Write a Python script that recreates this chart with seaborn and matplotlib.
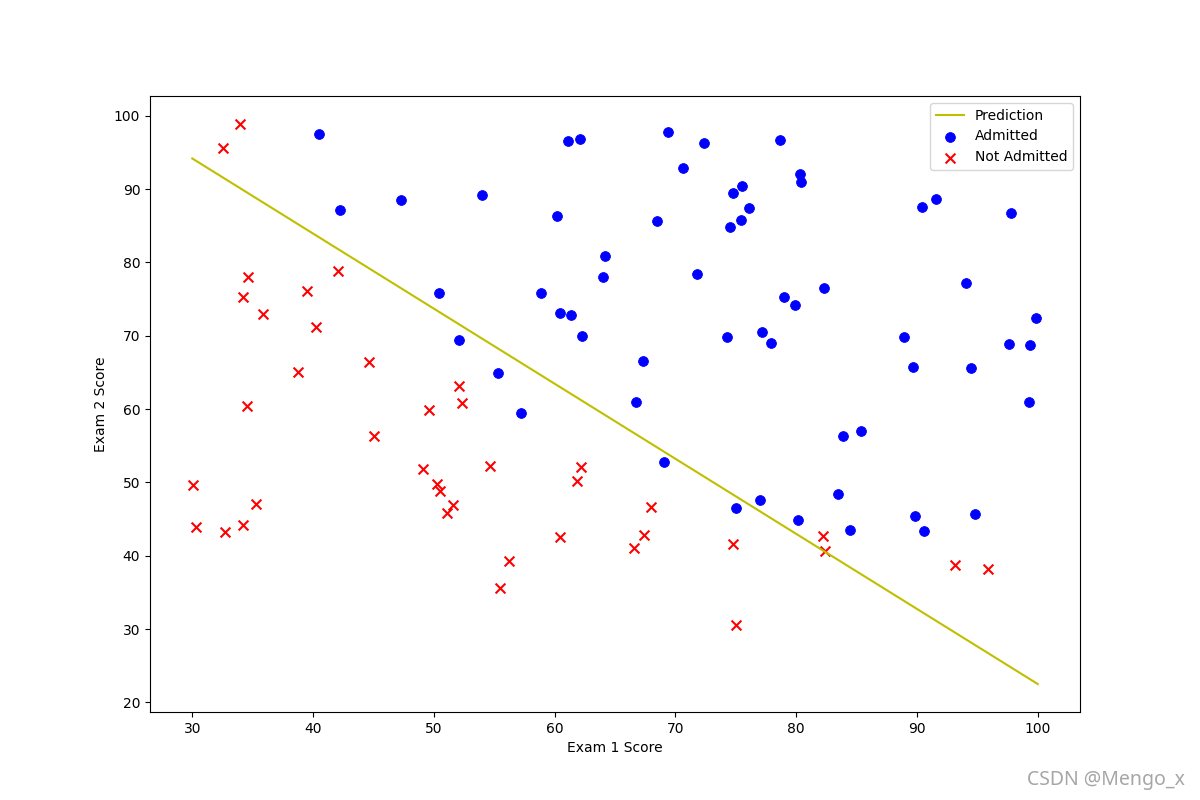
import pandas as pd
import seaborn as sns
import matplotlib.pyplot as plt

# Exam scores of admitted students
exam1_admitted = [60.18, 79.03, 61.11, 75.02, 76.10, 84.43, 82.31, 69.36, 53.97, 69.07,
                  70.66, 76.98, 89.68, 77.92, 62.27, 80.19, 61.38, 85.40, 52.05, 64.18,
                  83.90, 94.44, 77.19, 97.77, 62.07, 91.56, 79.94, 99.27, 90.55, 97.65,
                  74.25, 71.80, 75.40, 40.46, 80.28, 66.75, 64.04, 72.35, 60.46, 58.84,
                  99.83, 47.26, 50.46, 88.91, 94.83, 67.32, 57.24, 80.37, 68.47, 75.48,
                  78.64, 94.09, 90.45, 74.49, 89.85, 83.49, 42.26, 99.32, 55.34, 74.78]
exam2_admitted = [86.31, 75.34, 96.51, 46.55, 87.42, 43.53, 76.48, 97.72, 89.21, 52.74,
                  92.93, 47.58, 65.80, 68.97, 69.95, 44.82, 72.81, 57.05, 69.43, 80.91,
                  56.31, 65.57, 70.46, 86.73, 96.77, 88.70, 74.16, 61.00, 43.39, 68.86,
                  69.82, 78.45, 85.76, 97.54, 92.12, 60.99, 78.03, 96.23, 73.09, 75.86,
                  72.37, 88.48, 75.81, 69.80, 45.69, 66.59, 59.51, 90.96, 85.59, 90.42,
                  96.65, 77.16, 87.51, 84.85, 45.36, 48.38, 87.10, 68.78, 64.93, 89.53]

# Exam scores of students who were not admitted
exam1_rejected = [34.62, 30.29, 35.85, 45.08, 95.86, 75.01, 39.54, 67.95, 67.37, 50.53,
                  34.21, 93.11, 61.83, 38.79, 52.11, 40.24, 54.64, 33.92, 74.79, 34.18,
                  51.55, 82.37, 51.05, 62.22, 34.52, 50.29, 49.59, 32.58, 35.29, 56.25,
                  30.06, 44.67, 66.56, 49.07, 32.72, 60.46, 82.23, 42.08, 52.35, 55.48]
exam2_rejected = [78.02, 43.89, 72.90, 56.32, 38.23, 30.60, 76.04, 46.68, 42.84, 48.86,
                  44.21, 38.80, 50.26, 65.00, 63.13, 71.17, 52.21, 98.87, 41.57, 75.24,
                  46.86, 40.62, 45.82, 52.06, 60.40, 49.80, 59.81, 95.60, 47.02, 39.26,
                  49.59, 66.45, 41.09, 51.88, 43.31, 42.51, 42.72, 78.84, 60.77, 35.57]

# Decision boundary end points
boundary_x = [30, 100]
boundary_y = [94.17, 22.52]

admitted = pd.DataFrame({"exam1": exam1_admitted, "exam2": exam2_admitted})
rejected = pd.DataFrame({"exam1": exam1_rejected, "exam2": exam2_rejected})
boundary = pd.DataFrame({"x": boundary_x, "y": boundary_y})

fig, ax = plt.subplots(figsize=(12, 8), dpi=100)

sns.lineplot(data=boundary, x="x", y="y", color="y", label="Prediction", ax=ax)
sns.scatterplot(data=admitted, x="exam1", y="exam2", color="b", edgecolor="b",
                marker="o", s=50, label="Admitted", ax=ax)
sns.scatterplot(data=rejected, x="exam1", y="exam2", color="r", marker="x",
                s=50, linewidth=1.5, label="Not Admitted", ax=ax)

ax.set_xlabel("Exam 1 Score")
ax.set_ylabel("Exam 2 Score")
ax.legend(loc="upper right")

# watermark
fig.text(0.987, 0.013, "CSDN @Mengo_x", ha="right", va="bottom",
         fontsize=14, color="#a6a6a6", family="Noto Sans")

plt.savefig("out.png", dpi=100)
